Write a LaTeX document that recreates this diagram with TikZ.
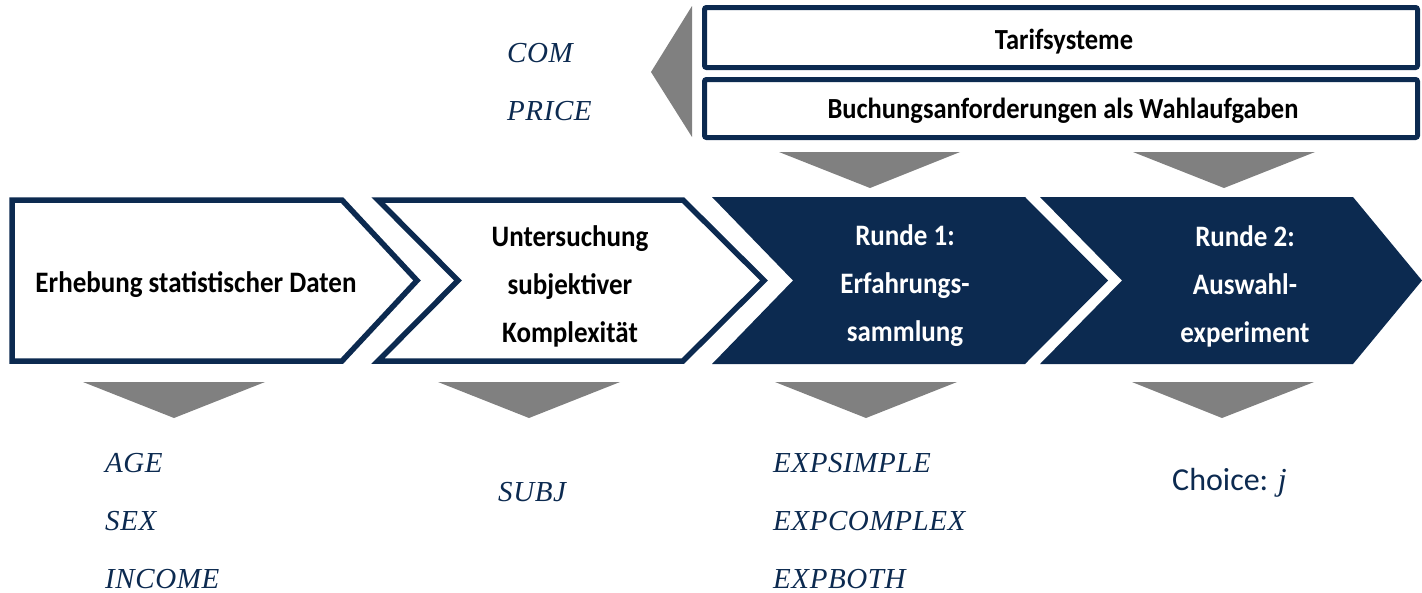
\documentclass[tikz,border=0pt]{standalone}
\usepackage{fontspec}
\setmainfont{Carlito}
\newfontfamily\varfont[LetterSpace=2]{Liberation Serif}
\definecolor{navy}{RGB}{12,42,80}
\definecolor{arrowgray}{RGB}{128,128,128}
\newcommand\tallbox[1]{\scalebox{1}[1.1]{#1}}
\begin{document}
\begin{tikzpicture}[x=1pt,y=-1pt,
  chevwhite/.style={draw=navy,line width=5.5pt,fill=white,line join=miter},
  chevdark/.style={fill=navy},
  topbox/.style={draw=navy,line width=5pt,fill=white,rounded corners=2pt},
  grayarrow/.style={fill=arrowgray},
  steptext/.style={font=\bfseries\fontsize{27}{48}\selectfont,align=center,inner sep=0pt},
  vartext/.style={text=navy,font=\varfont\itshape\fontsize{29}{58}\selectfont,align=left,inner sep=0pt,anchor=west}]
\useasboundingbox (0,0) rectangle (1422,592);
% chevrons
\draw[chevwhite] (12,200) -- (342,200) -- (417,280.5) -- (342,361) -- (12,361) -- cycle;
\draw[chevwhite] (378,200) -- (683,200) -- (764,280.5) -- (683,361) -- (378,361) -- (458,280.5) -- cycle;
\fill[chevdark] (712,197) -- (1025,197) -- (1108,280.5) -- (1025,364) -- (712,364) -- (793,280.5) -- cycle;
\fill[chevdark] (1040,197) -- (1353,197) -- (1422,280.5) -- (1353,364) -- (1040,364) -- (1122,280.5) -- cycle;
% top boxes
\draw[topbox] (704.5,7.5) rectangle (1417.5,67.5);
\draw[topbox] (704.5,79.5) rectangle (1417.5,137.5);
% gray arrows
\fill[grayarrow] (692,6) -- (692,137) -- (651,72) -- cycle;
\fill[grayarrow] (779,152) -- (960,152) -- (870,188) -- cycle;
\fill[grayarrow] (1133,152) -- (1315,152) -- (1224,188) -- cycle;
\fill[grayarrow] (83,382) -- (265,382) -- (174,418) -- cycle;
\fill[grayarrow] (438,382) -- (620,382) -- (529,418) -- cycle;
\fill[grayarrow] (775,382) -- (957,382) -- (866,418) -- cycle;
\fill[grayarrow] (1132,382) -- (1314,382) -- (1222,418) -- cycle;
% texts
\node[steptext] (s1) at (196,285) {\tallbox{Erhebung statistischer Daten}};
\node[steptext] (s2) at (570,286) {\tallbox{Untersuchung}\\\tallbox{subjektiver}\\\tallbox{Komplexität}};
\node[steptext,text=white] (s3) at (905,286) {\tallbox{Runde 1:}\\\tallbox{Erfahrungs-}\\\tallbox{sammlung}};
\node[steptext,text=white] (s4) at (1245,286) {\tallbox{Runde 2:}\\\tallbox{Auswahl-}\\\tallbox{experiment}};
\node[steptext,font=\bfseries\fontsize{26.5}{30}\selectfont] (t1) at (1064,42) {\tallbox{Tarifsysteme}};
\node[steptext,font=\bfseries\fontsize{26.5}{30}\selectfont] (t2) at (1063,111) {\tallbox{Buchungsanforderungen als Wahlaufgaben}};
\node[vartext] (v1) at (105,521) {AGE\\SEX\\INCOME};
\node[vartext] (v2) at (498,492) {SUBJ};
\node[vartext] (v3) at (773,521) {EXPSIMPLE\\EXPCOMPLEX\\EXPBOTH};
\node[vartext] (v4) at (507,82) {COM\\PRICE};
\node[vartext,font=\fontsize{32}{38}\selectfont] (ch) at (1172,483) {Choice: {\varfont\itshape j}};
\end{tikzpicture}
\end{document}
